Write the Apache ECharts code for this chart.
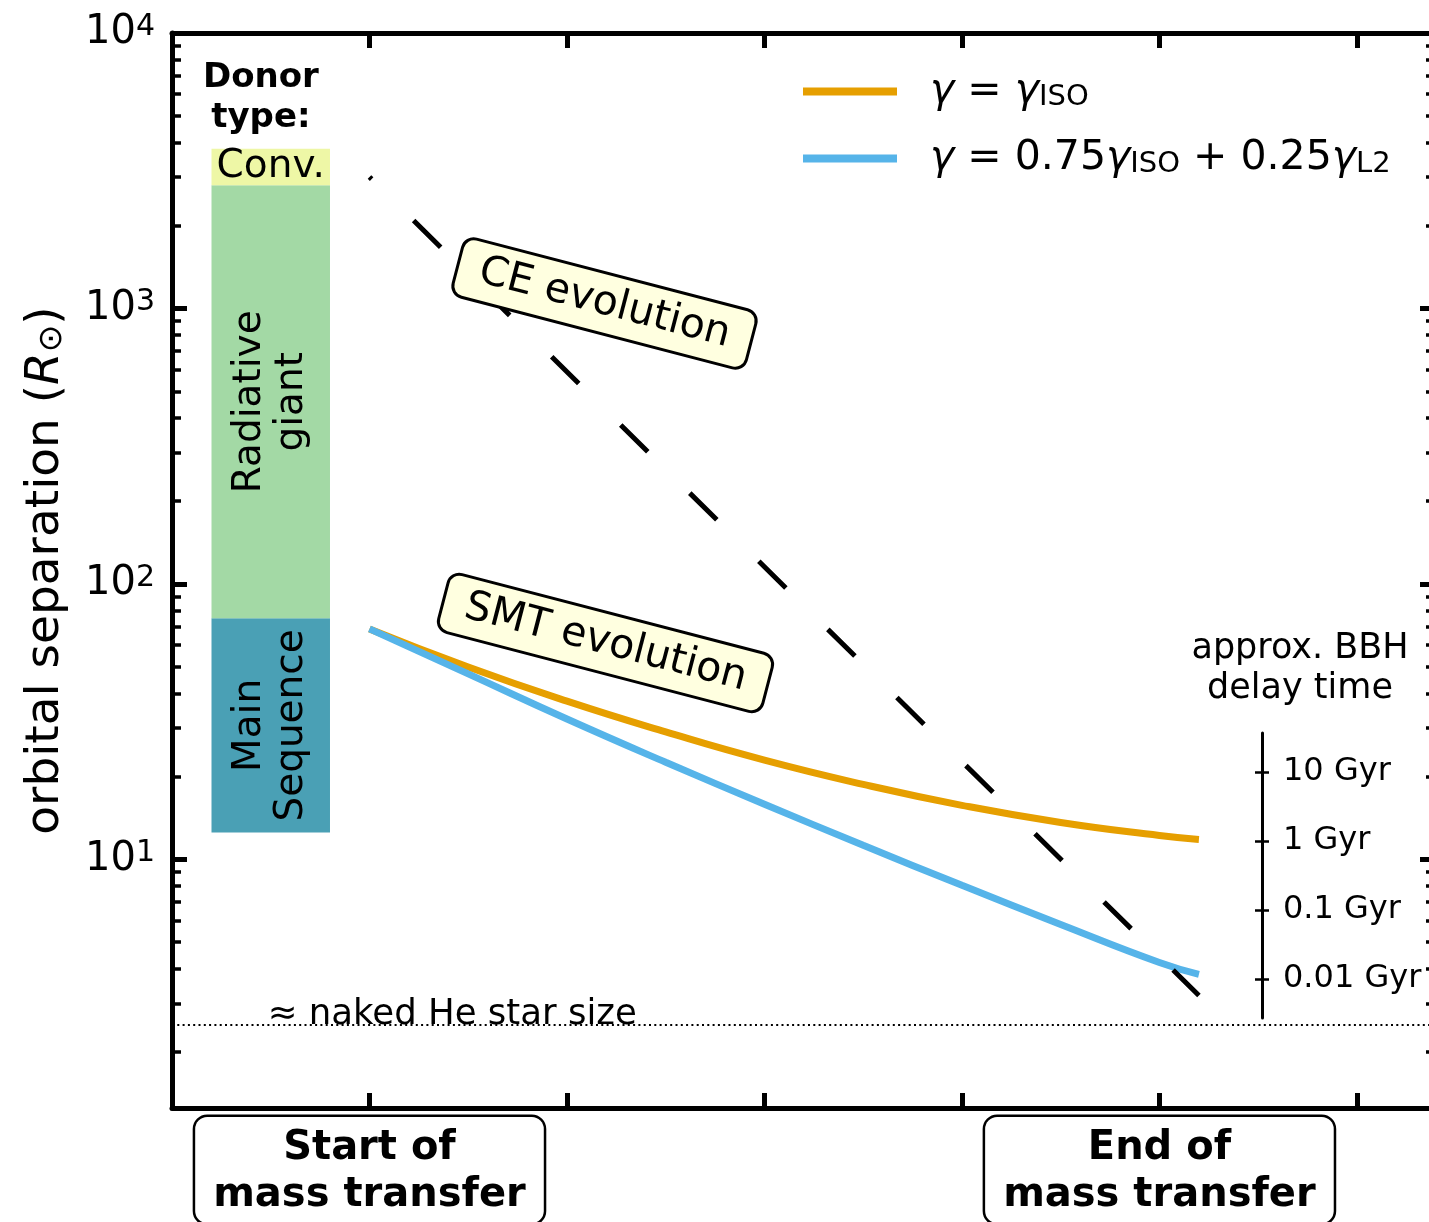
<!DOCTYPE html>
<html>
<head>
<meta charset="utf-8">
<script src="https://cdn.jsdelivr.net/npm/echarts@6/dist/echarts.min.js"></script>
<style>
  html, body { margin: 0; padding: 0; background: #fff; }
  #chart { width: 1429px; height: 1222px; }
</style>
</head>
<body>
<div id="chart"></div>
<script>
const FONT = 'DejaVu Sans';

// x: 0 = start of mass transfer, 4 = end of mass transfer
const xTicks = [0, 1, 2, 3, 4, 5];
const stageX = [0, 4];
const stageNames = ['Start of\nmass transfer', 'End of\nmass transfer'];

// orbital separation ticks (R_sun)
const yMajor = [10, 100, 1000, 10000];
const yMinor = [1, 10, 100, 1000].flatMap(d => [2, 3, 4, 5, 6, 7, 8, 9].map(k => k * d));

// stable mass transfer tracks
const smtX = [0, 0.5, 1, 1.5, 2, 2.5, 3, 3.5, 4, 4.2];
const isoY = [68.6, 49.9, 37.5, 29.0, 22.9, 18.7, 15.7, 13.6, 12.2, 11.8];
const mixY = [68.6, 47.1, 32.3, 22.5, 15.85, 11.24, 8.04, 5.80, 4.22, 3.82];

// common envelope track
const ceX = [0, 4.2];
const ceY = [3000, 3.2];

const heSize = 2.5;

// donor type bands
const donorX = [-0.8, -0.2];
const donorNames = ['Main\nSequence', 'Radiative\ngiant', 'Conv.'];
const donorLo = [12.5, 75, 2800];
const donorHi = [75, 2800, 3800];

// delay time scale (Gyr)
const delayTicks = [10, 1, 0.1, 0.01];

const donorColors = ['#4aa0b5', '#a3d9a5', '#eef7a6'];
const donorRotate = [Math.PI / 2, Math.PI / 2, 0];

const chart = echarts.init(document.getElementById('chart'));

function yLog(extra) {
  return Object.assign({
    type: 'log', logBase: 10, min: 1.25, max: 10000,
    splitLine: { show: false },
    axisLine: { show: false, onZero: false },
    axisLabel: { show: false },
    axisTick: { show: false }
  }, extra);
}

function note(x, y, style, rotation, dy) {
  return {
    type: 'custom', silent: true, z: 10, data: [[x, y]],
    renderItem: function (params, api) {
      const pt = api.coord([api.value(0), api.value(1)]);
      return {
        type: 'text', x: pt[0], y: pt[1] + (dy || 0), rotation: rotation || 0,
        style: Object.assign({
          fill: '#000', fontFamily: FONT, align: 'center', verticalAlign: 'middle'
        }, style)
      };
    }
  };
}

const boxStyle = {
  fontSize: 41, backgroundColor: '#ffffe0', borderColor: '#000',
  borderWidth: 3, borderRadius: 10, padding: [8, 21]
};

const option = {
  animation: false,
  textStyle: { fontFamily: FONT },
  grid: [
    { left: 172, top: 33, width: 1257, height: 1075, outerBoundsMode: 'none' },
    { left: 1262, top: 733, width: 2, height: 285, outerBoundsMode: 'none' }
  ],
  legend: {
    data: ['iso', 'mix'], orient: 'vertical', left: 803, top: 71, padding: 0,
    itemWidth: 94, itemHeight: 8, itemGap: 26, icon: 'rect', selectedMode: false,
    formatter: function (n) {
      return n === 'iso'
        ? '{g|γ}{t| = }{g|γ}{s|ISO}'
        : '{g|γ}{t| = 0.75}{g|γ}{s|ISO}{t| + 0.25}{g|γ}{s|L2}';
    },
    textStyle: {
      fontFamily: FONT, fontSize: 41, color: '#000', padding: [0, 0, 0, 28],
      rich: {
        g: { fontFamily: FONT, fontSize: 41, fontStyle: 'italic', color: '#000' },
        t: { fontFamily: FONT, fontSize: 41, color: '#000' },
        s: { fontFamily: FONT, fontSize: 29, color: '#000', verticalAlign: 'bottom', lineHeight: 27 }
      }
    }
  },
  xAxis: [
    {
      type: 'value', min: -1, max: 5.365, position: 'bottom',
      splitLine: { show: false },
      axisLine: { onZero: false, lineStyle: { color: '#000', width: 5 } },
      axisTick: { inside: true, length: 15, customValues: xTicks, lineStyle: { color: '#000', width: 5 } },
      axisLabel: {
        customValues: stageX, margin: 9,
        formatter: v => stageNames[stageX.indexOf(v)],
        fontFamily: FONT, fontSize: 40, fontWeight: 'bold', lineHeight: 47, color: '#000',
        backgroundColor: '#fff', borderColor: '#000', borderWidth: 2.5, borderRadius: 12,
        padding: [8, 18, 4, 18]
      }
    },
    {
      type: 'value', min: -1, max: 5.365, position: 'top',
      splitLine: { show: false },
      axisLine: { onZero: false, lineStyle: { color: '#000', width: 5 } },
      axisTick: { inside: true, length: 15, customValues: xTicks, lineStyle: { color: '#000', width: 5 } },
      axisLabel: { show: false }
    },
    { type: 'value', gridIndex: 1, min: 0, max: 1, show: false }
  ],
  yAxis: [
    yLog({
      position: 'left',
      axisLine: { show: true, onZero: false, lineStyle: { color: '#000', width: 5 } },
      axisTick: { show: true, inside: true, length: 15, customValues: yMajor, lineStyle: { color: '#000', width: 5 } },
      axisLabel: {
        show: true, customValues: yMajor, margin: 17,
        formatter: v => '{b|10}{e|' + Math.round(Math.log10(v)) + '}',
        rich: {
          b: { fontFamily: FONT, fontSize: 40, lineHeight: 42, color: '#000' },
          e: { fontFamily: FONT, fontSize: 30, lineHeight: 20, verticalAlign: 'top', color: '#000' }
        }
      },
      name: '{n|orbital separation (}{i|R}{o|⊙}{n|)}',
      nameLocation: 'middle', nameRotate: 90, nameGap: 103,
      nameTextStyle: {
        rich: {
          n: { fontFamily: FONT, fontSize: 47, color: '#000' },
          i: { fontFamily: FONT, fontSize: 47, fontStyle: 'italic', color: '#000' },
          o: { fontFamily: FONT, fontSize: 33, color: '#000', verticalAlign: 'bottom', lineHeight: 30 }
        }
      }
    }),
    yLog({
      position: 'left',
      axisTick: { show: true, inside: true, length: 9, customValues: yMinor, lineStyle: { color: '#000', width: 3.5 } }
    }),
    yLog({
      position: 'right',
      axisTick: { show: true, inside: true, length: 9, customValues: yMajor, lineStyle: { color: '#000', width: 5 } }
    }),
    yLog({
      position: 'right',
      axisTick: { show: true, inside: true, length: 3, customValues: yMinor, lineStyle: { color: '#000', width: 3.5 } }
    }),
    {
      type: 'log', logBase: 10, gridIndex: 1, position: 'left', min: 0.00272, max: 36.7,
      splitLine: { show: false },
      axisLine: { show: true, onZero: false, lineStyle: { color: '#000', width: 3 } },
      axisTick: { show: true, inside: true, length: 7, customValues: delayTicks, lineStyle: { color: '#000', width: 2.5 } },
      axisLabel: {
        show: true, inside: true, margin: 21, customValues: delayTicks,
        formatter: v => v + ' Gyr',
        fontFamily: FONT, fontSize: 32, color: '#000'
      },
      name: 'approx. BBH\ndelay time', nameLocation: 'end', nameGap: 24,
      nameTextStyle: { fontFamily: FONT, fontSize: 35, lineHeight: 40, color: '#000', align: 'center', padding: [0, 0, 0, 76] }
    },
    {
      type: 'log', logBase: 10, gridIndex: 1, position: 'left', min: 0.00272, max: 36.7,
      splitLine: { show: false },
      axisLine: { show: false, onZero: false },
      axisTick: { show: true, inside: false, length: 7, customValues: delayTicks, lineStyle: { color: '#000', width: 2.5 } },
      axisLabel: { show: false }
    }
  ],
  series: [
    {
      type: 'custom', name: 'donor', silent: true, z: 1,
      data: donorNames.map((n, i) => [donorX[0], donorX[1], donorLo[i], donorHi[i], i]),
      encode: { x: [0, 1], y: [2, 3] },
      renderItem: function (params, api) {
        const i = api.value(4);
        const a = api.coord([api.value(0), api.value(3)]);
        const b = api.coord([api.value(1), api.value(2)]);
        return {
          type: 'group',
          children: [
            { type: 'rect', shape: { x: a[0], y: a[1], width: b[0] - a[0], height: b[1] - a[1] }, style: { fill: donorColors[i] } },
            {
              type: 'text', x: (a[0] + b[0]) / 2, y: (a[1] + b[1]) / 2, rotation: donorRotate[i],
              style: { text: donorNames[i], fill: '#000', fontFamily: FONT, fontSize: 39, lineHeight: 42, align: 'center', verticalAlign: 'middle' }
            }
          ]
        };
      }
    },
    {
      type: 'line', name: 'he', data: [[-1, heSize], [5.365, heSize]], symbol: 'none', z: 2,
      lineStyle: { color: '#000', width: 2, type: [2, 3.3] }
    },
    {
      type: 'line', name: 'iso', data: smtX.map((x, i) => [x, isoY[i]]), symbol: 'none', smooth: 0.5, z: 3,
      itemStyle: { color: '#e69f00' }, lineStyle: { color: '#e69f00', width: 7 }
    },
    {
      type: 'line', name: 'mix', data: smtX.map((x, i) => [x, mixY[i]]), symbol: 'none', smooth: 0.5, z: 3,
      itemStyle: { color: '#56b4e9' }, lineStyle: { color: '#56b4e9', width: 7 }
    },
    {
      type: 'line', name: 'ce', data: ceX.map((x, i) => [x, ceY[i]]), symbol: 'none', z: 4,
      lineStyle: { color: '#000', width: 5, type: [38, 59], dashOffset: 35, cap: 'butt' }
    },
    note(1.19, 1042, Object.assign({ text: 'CE evolution' }, boxStyle), -0.255),
    note(1.195, 61, Object.assign({ text: 'SMT evolution' }, boxStyle), -0.255),
    note(-0.55, 5800, { text: 'Donor\ntype:', fontSize: 34, fontWeight: 'bold', lineHeight: 40 }),
    note(-0.515, heSize, { text: '≈ naked He star size', fontSize: 35.5, align: 'left' }, 0, -10)
  ]
};

chart.setOption(option);
</script>
</body>
</html>
